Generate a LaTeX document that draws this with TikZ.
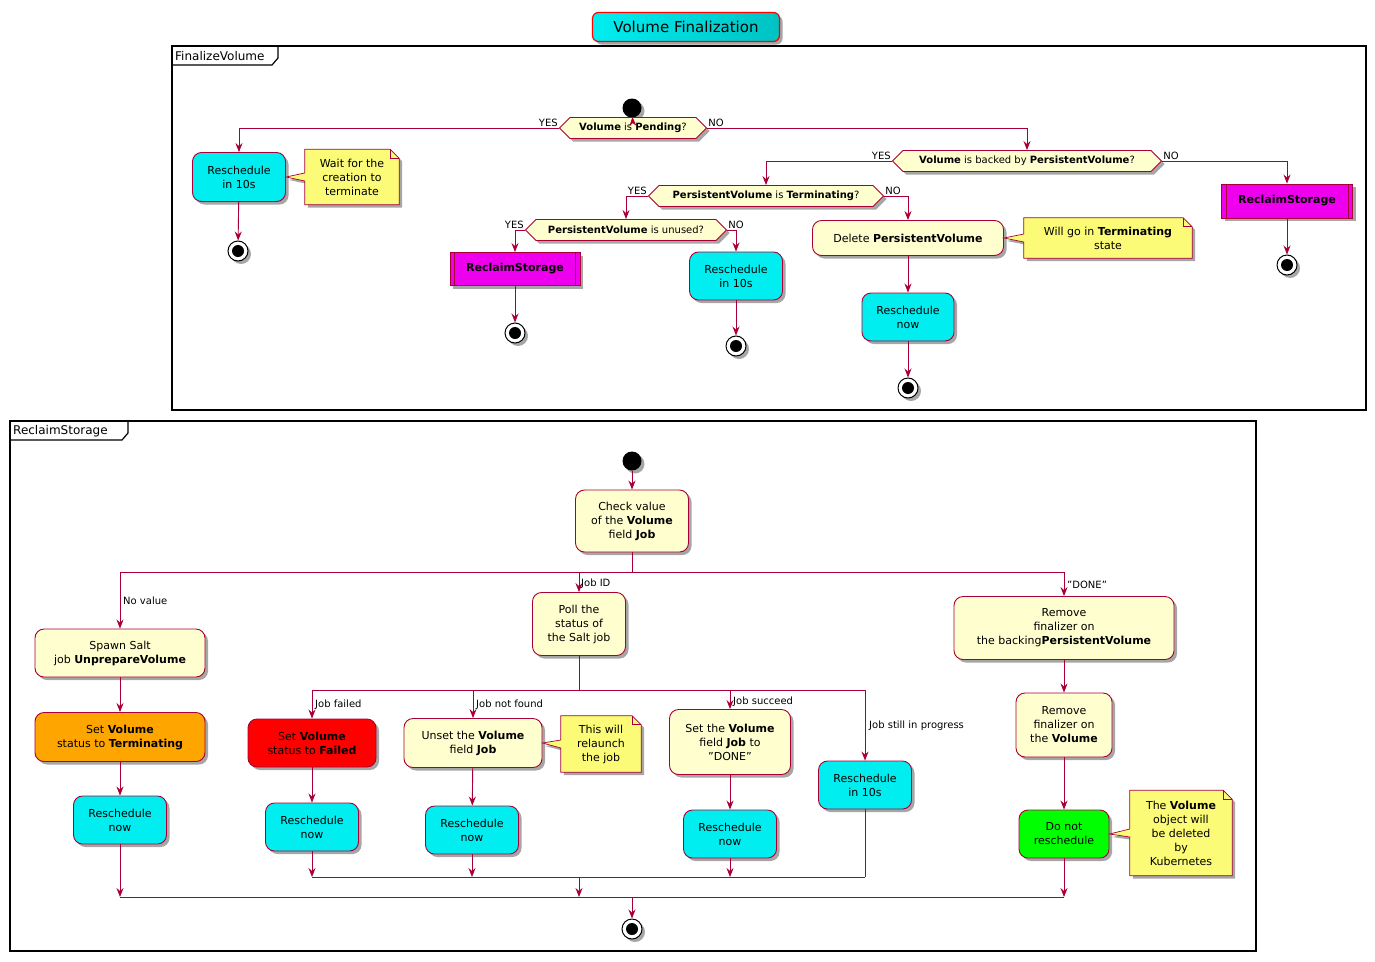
\documentclass[tikz,border=0pt]{standalone}
\usepackage{fontspec}
\setmainfont{DejaVu Sans}
\usetikzlibrary{shapes.geometric,shapes.symbols,shadows,arrows.meta}
\definecolor{bord}{HTML}{A80036}
\definecolor{actbg}{HTML}{FEFECE}
\definecolor{cyanc}{HTML}{00EEF0}
\definecolor{magc}{HTML}{EE00EE}
\definecolor{notec}{HTML}{FBFB77}
\definecolor{orangec}{HTML}{FFA500}
\definecolor{redc}{HTML}{FF0000}
\definecolor{greenc}{HTML}{00FF00}
\newcommand{\fs}{\fontsize{11}{14}\selectfont}
\newcommand{\fsd}{\fontsize{10}{12}\selectfont}
\tikzset{
 shad/.style={drop shadow={shadow xshift=3pt,shadow yshift=-3pt,opacity=0.35,fill=black}},
 act/.style={rounded corners=9pt,draw=bord,fill=actbg,align=center,inner sep=0pt,font=\fs,line width=0.9pt,shad},
 cy/.style={act,fill=cyanc},
 dec/.style={signal,signal to=west and east,signal pointer angle=90,draw=bord,fill=actbg,font=\fsd,inner sep=2pt,minimum height=21pt,line width=0.9pt,shad},
 procbox/.style={draw=bord,fill=magc,font=\fs\bfseries,line width=0.9pt,inner sep=0pt,shad},
 arr/.style={draw=bord,line width=0.9pt,-{Stealth[length=9pt,width=7pt,inset=3pt]}},
 ln/.style={draw=bord,line width=0.9pt},
 lbl/.style={font=\fsd,inner sep=1pt},
 notetx/.style={align=center,font=\fs,inner sep=0pt},
 notefill/.style={draw=bord,fill=notec,line width=0.7pt,shad},
 startn/.style={circle,fill=black,minimum size=19pt,inner sep=0pt,shad},
 stopn/.style={circle,draw=black,fill=white,line width=1pt,minimum size=20pt,inner sep=0pt,shad,
   path picture={\fill[black] (path picture bounding box.center) circle (6pt);}},
 frm/.style={draw=black,line width=1.5pt},
}
\newcommand{\procside}[1]{\draw[bord,line width=0.9pt] ([xshift=5pt]#1.north west)--([xshift=5pt]#1.south west) ([xshift=-5pt]#1.north east)--([xshift=-5pt]#1.south east);}
% note: name, target point
\newcommand{\notepath}[2]{\path[notefill] (#1.south west) -- ([yshift=-4pt]#1.west) -- (#2) -- ([yshift=4pt]#1.west) -- (#1.north west) -- ([xshift=-9pt]#1.north east) -- ([yshift=-9pt]#1.north east) -- (#1.south east) -- cycle;
 \draw[bord,line width=0.7pt] ([xshift=-9pt]#1.north east) -- ([xshift=-9pt,yshift=-9pt]#1.north east) -- ([yshift=-9pt]#1.north east);}
\begin{document}
\begin{tikzpicture}[x=1pt,y=-1pt]
\useasboundingbox (0,0) rectangle (1375,961);
% title
\node[rounded corners=6pt,draw=redc,line width=1.2pt,left color=cyanc,right color=cyanc!60!teal,minimum width=187pt,minimum height=29pt,font=\fontsize{15}{18}\selectfont,inner sep=0pt,shad] (title) at (686,27) {Volume Finalization};
% ---------- frame 1
\draw[frm] (172,46) rectangle (1366,410);
\draw[line width=1.2pt] (172,65) -- (272,65) -- (278,58) -- (278,46);
\node[anchor=west,font=\fontsize{12}{14}\selectfont,inner sep=0pt] (f1l) at (175,56) {FinalizeVolume};
\node[startn] (st1) at (632,108) {};
\node[dec,minimum width=147pt] (d1) at (633,128) {\textbf{Volume} is \textbf{Pending}?};
\node[cy,minimum width=93pt,minimum height=49pt] (r1) at (239,177) {Reschedule\\in 10s};
\node[stopn] (e1) at (238,251) {};
\node[notetx,minimum width=94pt,minimum height=55pt] (n1) at (352,177) {Wait for the\\creation to\\terminate};
\node[dec,minimum width=269pt] (d2) at (1027,161) {\textbf{Volume} is backed by \textbf{PersistentVolume}?};
\node[procbox,minimum width=131pt,minimum height=34pt] (rc1) at (1287,201) {ReclaimStorage};
\node[stopn] (e2) at (1287,265) {};
\node[dec,minimum width=235pt] (d3) at (766,196) {\textbf{PersistentVolume} is \textbf{Terminating}?};
\node[dec,minimum width=201pt] (d4) at (626,230) {\textbf{PersistentVolume} is unused?};
\node[procbox,minimum width=130pt,minimum height=33pt] (rc2) at (515,269) {ReclaimStorage};
\node[stopn] (e3) at (515,333) {};
\node[cy,minimum width=93pt,minimum height=48pt] (r2) at (736,276) {Reschedule\\in 10s};
\node[stopn] (e4) at (736,346) {};
\node[act,minimum width=191pt,minimum height=35pt] (del) at (908,238) {Delete \textbf{PersistentVolume}};
\node[notetx,minimum width=168pt,minimum height=40pt] (n2) at (1108,238) {Will go in \textbf{Terminating}\\state};
\node[cy,minimum width=92pt,minimum height=48pt] (r3) at (908,317) {Reschedule\\now};
\node[stopn] (e5) at (908,388) {};
\notepath{n1}{r1.east}
\node[notetx,minimum width=94pt,minimum height=55pt] at (n1) {Wait for the\\creation to\\terminate};
\notepath{n2}{del.east}
\node[notetx,minimum width=168pt,minimum height=40pt] at (n2) {Will go in \textbf{Terminating}\\state};
\procside{rc1}\procside{rc2}
\draw[arr] (st1) -- (d1);
\draw[arr] (d1.west) -| (r1.north);
\node[lbl,anchor=south east] at (d1.west) {YES};
\node[lbl,anchor=south west] at (d1.east) {NO};
\draw[arr] (d1.east) -| (d2.north);
\draw[arr] (r1) -- (e1);
\draw[arr] (d2.east) -| (rc1.north);
\node[lbl,anchor=south east] at (d2.west) {YES};
\node[lbl,anchor=south west] at (d2.east) {NO};
\draw[arr] (rc1) -- (e2);
\draw[arr] (d2.west) -| (d3.north);
\node[lbl,anchor=south east] at (d3.west) {YES};
\node[lbl,anchor=south west] at (d3.east) {NO};
\draw[arr] (d3.west) -| (d4.north);
\draw[arr] (d3.east) -| (del.north);
\node[lbl,anchor=south east] at (d4.west) {YES};
\node[lbl,anchor=south west] at (d4.east) {NO};
\draw[arr] (d4.west) -| (rc2.north);
\draw[arr] (d4.east) -| (r2.north);
\draw[arr] (rc2) -- (e3);
\draw[arr] (r2) -- (e4);
\draw[arr] (del) -- (r3);
\draw[arr] (r3) -- (e5);
% ---------- frame 2
\draw[frm] (10,421) rectangle (1256,951);
\draw[line width=1.2pt] (10,440) -- (122,440) -- (128,433) -- (128,421);
\node[anchor=west,font=\fontsize{12}{14}\selectfont,inner sep=0pt] (f2l) at (13,431) {ReclaimStorage};
\node[startn] (st2) at (632,461) {};
\node[act,minimum width=113pt,minimum height=62pt] (chk) at (632,521) {Check value\\of the \textbf{Volume}\\field \textbf{Job}};
\coordinate (s1) at (632,572);
\coordinate (s1b) at (579,572);
\node[act,minimum width=170pt,minimum height=48pt] (spawn) at (120,653) {Spawn Salt\\job \textbf{UnprepareVolume}};
\node[act,fill=orangec,minimum width=170pt,minimum height=49pt] (term) at (120,737) {Set \textbf{Volume}\\status to \textbf{Terminating}};
\node[cy,minimum width=93pt,minimum height=48pt] (ra) at (120,820) {Reschedule\\now};
\node[act,minimum width=93pt,minimum height=63pt] (poll) at (579,624) {Poll the\\status of\\the Salt job};
\node[act,minimum width=220pt,minimum height=63pt] (rem) at (1064,628) {Remove\\finalizer on\\the backing\textbf{PersistentVolume}};
\node[act,minimum width=96pt,minimum height=64pt] (rem2) at (1064,725) {Remove\\finalizer on\\the \textbf{Volume}};
\node[act,fill=greenc,minimum width=90pt,minimum height=48pt] (dnr) at (1064,834) {Do not\\reschedule};
\node[notetx,minimum width=102pt,minimum height=85pt] (n4) at (1181,833) {};
\coordinate (s2) at (579,690);
\node[act,fill=redc,minimum width=128pt,minimum height=48pt] (fail) at (312,743) {Set \textbf{Volume}\\status to \textbf{Failed}};
\node[cy,minimum width=93pt,minimum height=48pt] (rb) at (312,827) {Reschedule\\now};
\node[act,minimum width=138pt,minimum height=49pt] (unset) at (473,743) {Unset the \textbf{Volume}\\field \textbf{Job}};
\node[notetx,minimum width=80pt,minimum height=56pt] (n3) at (601,744) {};
\node[cy,minimum width=93pt,minimum height=48pt] (rc) at (472,830) {Reschedule\\now};
\node[act,minimum width=121pt,minimum height=65pt] (setd) at (730,742) {Set the \textbf{Volume}\\field \textbf{Job} to\\"DONE"};
\node[cy,minimum width=93pt,minimum height=48pt] (rd) at (730,834) {Reschedule\\now};
\node[cy,minimum width=93pt,minimum height=48pt] (re) at (865,785) {Reschedule\\in 10s};
\notepath{n3}{unset.east}
\node[notetx] at (n3) {This will\\relaunch\\the job};
\notepath{n4}{dnr.east}
\node[notetx] at (n4) {The \textbf{Volume}\\object will\\be deleted\\by\\Kubernetes};
\coordinate (m1) at (579,877);
\coordinate (m2) at (632,897);
\draw[arr] (st2) -- (chk);
\draw[ln] (chk) -- (s1);
\draw[arr] (s1) -| (spawn.north);
\draw[arr] (s1) -| (rem.north);
\draw[arr] (s1b) -- (poll.north);
\node[lbl,anchor=west] at (122,601) {No value};
\node[lbl,anchor=west] at (580,584) {Job ID};
\node[lbl,anchor=west] at (1066,585) {"DONE"};
\draw[arr] (spawn) -- (term);
\draw[arr] (term) -- (ra);
\draw[ln] (poll) -- (s2);
\draw[arr] (s2) -| (fail.north);
\draw[arr] (s2) -| (unset.north);
\draw[arr] (s2) -| (setd.north);
\draw[arr] (s2) -| (re.north);
\node[lbl,anchor=west] at (314,705) {Job failed};
\node[lbl,anchor=west] at (475,705) {Job not found};
\node[lbl,anchor=west] at (732,702) {Job succeed};
\node[lbl,anchor=west] at (868,726) {Job still in progress};
\draw[arr] (fail) -- (rb);
\draw[arr] (unset) -- (rc);
\draw[arr] (setd) -- (rd);
\draw[arr] (rb.south) -- (rb.south |- m1);
\draw[arr] (rc.south) -- (rc.south |- m1);
\draw[arr] (rd.south) -- (rd.south |- m1);
\draw[ln] (re.south) -- (re.south |- m1);
\draw[ln] (rb.south |- m1) -- (re.south |- m1);
\draw[arr] (m1) -- (m1 |- m2);
\draw[arr] (ra.south) -- (ra.south |- m2);
\draw[arr] (rem) -- (rem2);
\draw[arr] (rem2) -- (dnr);
\draw[arr] (dnr.south) -- (dnr.south |- m2);
\draw[ln] (ra.south |- m2) -- (dnr.south |- m2);
\node[stopn] (e6) at (632,929) {};
\draw[arr] (m2) -- (e6);
\end{tikzpicture}
\end{document}
